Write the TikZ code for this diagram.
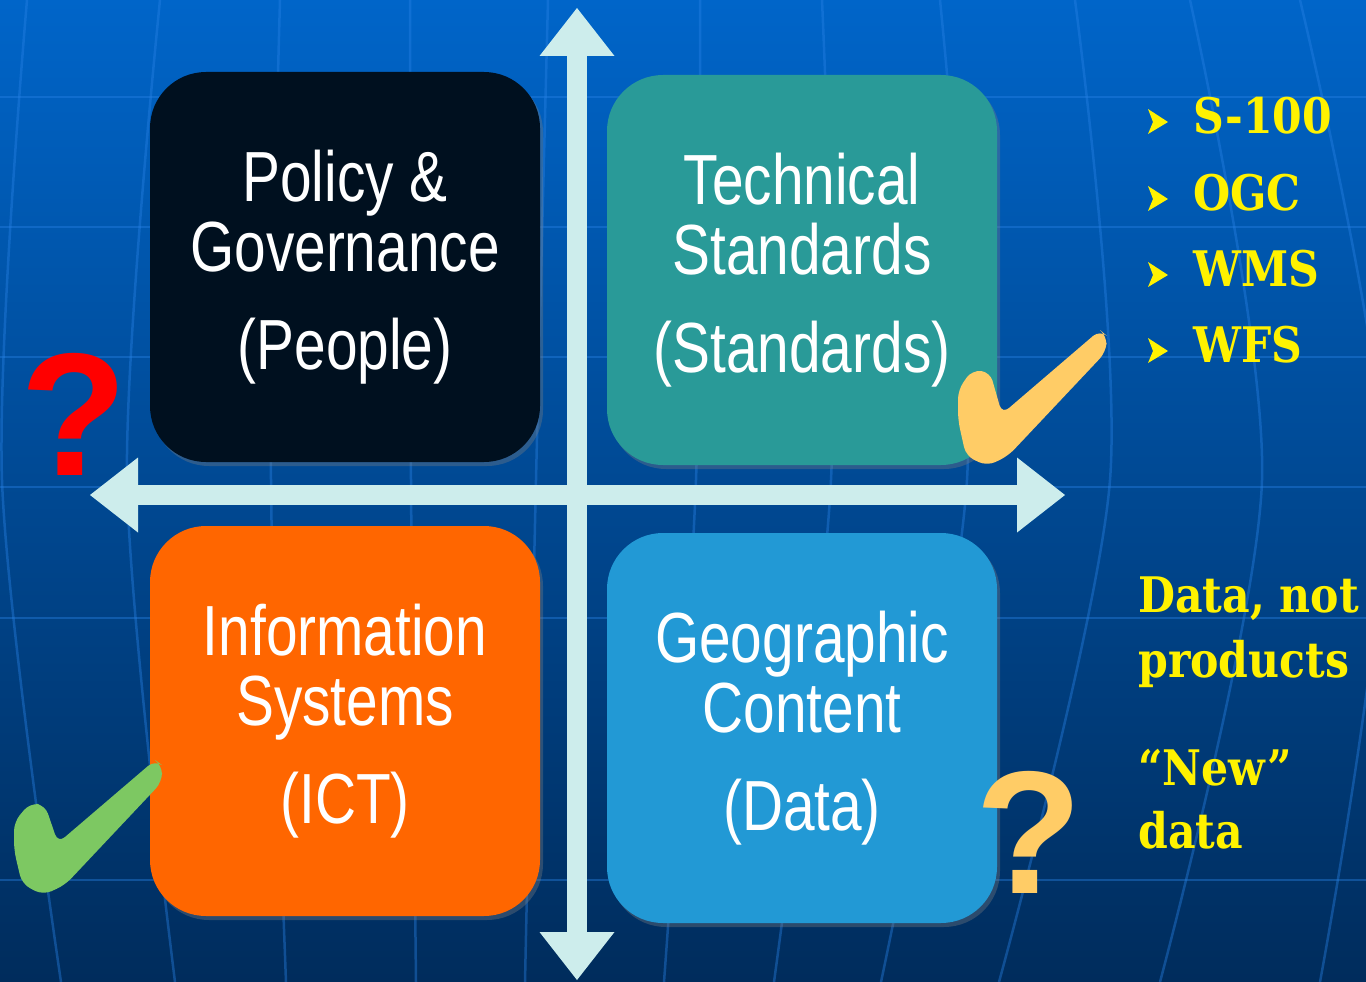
\documentclass[tikz,border=0pt]{standalone}
\usepackage{fontspec}
\setmainfont{Liberation Sans}
\newfontfamily\boxfont[FakeStretch=0.8]{Liberation Sans}
\newfontfamily\notefont[FakeStretch=0.87]{DejaVu Serif}
\usetikzlibrary{arrows.meta,shadows}
\definecolor{bgtop}{RGB}{0,101,201}
\definecolor{bgmid}{RGB}{0,78,158}
\definecolor{bgbot}{RGB}{0,44,92}
\definecolor{gridblue}{RGB}{40,130,230}
\definecolor{axiscol}{RGB}{205,237,236}
\definecolor{policycol}{RGB}{0,16,31}
\definecolor{techcol}{RGB}{41,154,152}
\definecolor{infocol}{RGB}{255,102,0}
\definecolor{geocol}{RGB}{34,153,213}
\definecolor{okorange}{RGB}{255,204,102}
\definecolor{okgreen}{RGB}{125,200,98}
\tikzstyle{quadbox}=[rectangle, rounded corners=56pt, minimum width=390pt, minimum height=390pt, inner sep=0pt, align=center, text=white, font=\boxfont\fontsize{71}{70}\selectfont, drop shadow={shadow xshift=3pt, shadow yshift=-4pt, opacity=0.35}]
\tikzstyle{axisline}=[draw=axiscol, line width=20pt, >={Triangle[width=75pt,length=48pt,line width=0pt]}, <->]
\tikzstyle{remark}=[text=yellow, font=\notefont\bfseries\fontsize{49}{65}\selectfont, inner sep=0pt, anchor=base west]
\tikzstyle{qmark}=[font=\bfseries\fontsize{175}{175}\selectfont, inner sep=0pt, anchor=base]
\tikzstyle{meridian}=[draw=gridblue, line width=2.5pt, opacity=0.4]

\begin{document}
\begin{tikzpicture}[x=1pt, y=-1pt]
	\useasboundingbox (0,0) rectangle (1366,982);
	\shade[top color=bgtop, middle color=bgmid, bottom color=bgbot] (0,0) rectangle (1366,982);

	% globe lines
	\foreach \y in {97,227,357,487,618,880}
		\draw[meridian] (0,\y) -- (1366,\y);
	\foreach \a/\b/\c in {27/2/61, 160/127/175, 280/271/286, 410/411/416, 548/536/525, 700/696/664, 822/831/774, 940/967/881, 1075/1110/999, 1190/1262/1160, 1300/1385/1320}
		\draw[meridian] plot[smooth] coordinates {(\a,0) (\b,480) (\c,982)};

	\coordinate (ytop) at (577,8);
	\coordinate (ybot) at (577,980);
	\coordinate (xleft) at (90,495);
	\coordinate (xright) at (1065,495);
	\draw[axisline] (ytop) -- (ybot);
	\draw[axisline] (xleft) -- (xright);

	\node[quadbox, fill=policycol] (policy) at (345,267) {Policy \&\\Governance\\[28pt](People)};
	\node[quadbox, fill=techcol] (tech) at (802,270) {Technical\\Standards\\[28pt](Standards)};
	\node[quadbox, fill=infocol] (info) at (345,721) {Information\\Systems\\[28pt](ICT)};
	\node[quadbox, fill=geocol] (geo) at (802,728) {Geographic\\Content\\[28pt](Data)};

	\fill[okorange, rounded corners=9pt] (972,370) -- (990,372) -- (1002,414) -- (1100,330) -- (1107,336) -- (1106,352) -- (1008,456) -- (987,466) -- (966,456) -- (958,420) -- (958,390) -- cycle;
	\fill[okgreen, rounded corners=9pt] (30,803) -- (45,805) -- (58,843) -- (155,760) -- (162,765) -- (162,782) -- (65,885) -- (43,895) -- (22,884) -- (14,850) -- (14,822) -- cycle;

	\node[qmark, text=red] (askpolicy) at (74,475) {?};
	\node[qmark, text=okorange] (askgeo) at (1029,893) {?};

	\foreach \t/\y/\n in {S-100/133/s100, OGC/210/ogc, WMS/286/wms, WFS/362/wfs}{
		\fill[yellow] (1148,\y-24) -- (1168,\y-11) -- (1148,\y+1) -- (1153,\y-11) -- cycle;
		\node[remark] (\n) at (1193,\y) {\t};
	}
	\node[remark] (datanot) at (1138,612) {Data, not};
	\node[remark] (products) at (1138,677) {products};
	\node[remark] (newq) at (1138,785) {“New”};
	\node[remark] (newdata) at (1138,848) {data};
\end{tikzpicture}
\end{document}
